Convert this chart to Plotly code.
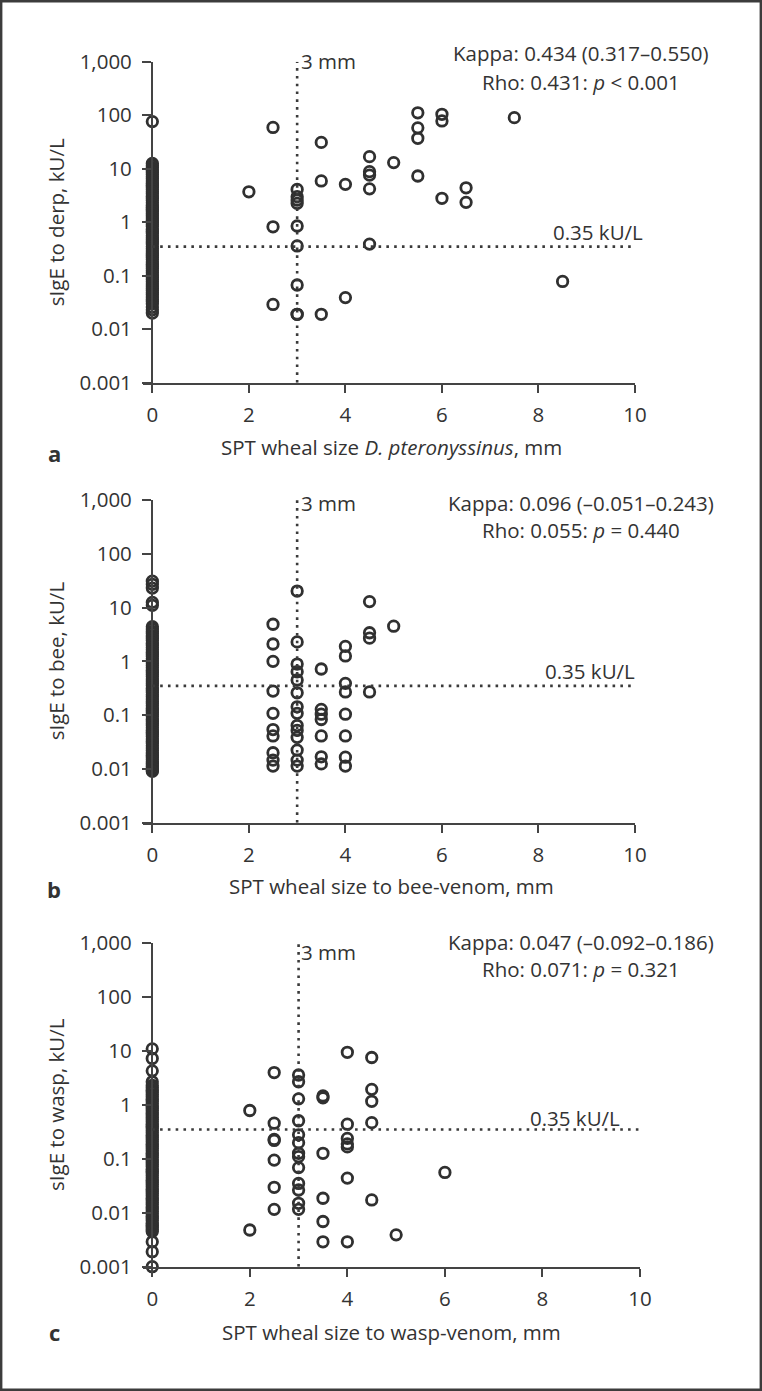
import plotly.graph_objects as go

# ---------------- data ----------------
# Panel a: D. pteronyssinus (x = 0 column, then the rest)
a_x0_vals = [76, 12.5, 11.4, 10.4, 9.5, 8.6, 7.8, 7.1, 6.5, 5.9, 5.4, 4.9, 4.5, 4.1, 3.7, 3.4,
             3.1, 2.8, 2.55, 2.3, 2.1, 1.9, 1.75, 1.6, 1.45, 1.3, 1.2, 1.1, 1.0, 0.91, 0.83,
             0.75, 0.68, 0.62, 0.56, 0.51, 0.47, 0.43, 0.39, 0.35, 0.32, 0.29, 0.265, 0.24,
             0.22, 0.2, 0.18, 0.165, 0.15, 0.136, 0.124, 0.113, 0.103, 0.094, 0.085, 0.077,
             0.07, 0.064, 0.058, 0.053, 0.048, 0.044, 0.04, 0.036, 0.033, 0.03, 0.026,
             0.023, 0.02]
a_x = [2, 2.5, 2.5, 2.5, 3, 3, 3, 3, 3, 3, 3, 3, 3, 3.5, 3.5, 3.5, 4, 4,
       4.5, 4.5, 4.5, 4.5, 4.5, 5, 5.5, 5.5, 5.5, 5.5, 6, 6, 6, 6.5, 6.5, 7.5, 8.5]
a_y = [3.7, 59, 0.82, 0.029, 4.1, 3.0, 2.6, 2.25, 0.85, 0.36, 0.067, 0.019, 0.019, 31, 5.9, 0.019, 5.1, 0.039,
       16.8, 8.8, 7.6, 4.2, 0.39, 13, 111, 58, 37, 7.3, 104, 78, 2.8, 4.4, 2.35, 90, 0.078]

# Panel b: bee venom
b_x0_vals = [31, 27, 23, 12.5, 11, 4.4, 4.0, 3.6, 3.3, 3.0, 2.7, 2.45, 2.2, 2.0, 1.8, 1.65,
             1.5, 1.36, 1.24, 1.12, 1.02, 0.93, 0.84, 0.76, 0.69, 0.63, 0.57, 0.52, 0.47,
             0.43, 0.39, 0.355, 0.32, 0.29, 0.265, 0.24, 0.22, 0.2, 0.18, 0.165, 0.15, 0.136,
             0.124, 0.113, 0.103, 0.094, 0.085, 0.077, 0.07, 0.064, 0.058, 0.053, 0.048,
             0.044, 0.04, 0.036, 0.033, 0.03, 0.027, 0.0245, 0.022, 0.02, 0.018, 0.0165,
             0.015, 0.0136, 0.0124, 0.0113, 0.0103, 0.0094, 0.009]
b_x = [2.5] * 10 + [3] * 14 + [3.5] * 7 + [4] * 8 + [4.5] * 4 + [5]
b_y = [4.9, 2.1, 1.0, 0.28, 0.108, 0.054, 0.041, 0.020, 0.0146, 0.0113,
       20.3, 2.3, 0.89, 0.64, 0.45, 0.26, 0.143, 0.108, 0.064, 0.052, 0.0386, 0.0224, 0.0146, 0.0113,
       0.72, 0.128, 0.104, 0.083, 0.041, 0.0168, 0.0124,
       1.9, 1.26, 0.39, 0.27, 0.104, 0.041, 0.0165, 0.0113,
       12.9, 3.4, 2.7, 0.27,
       4.5]

# Panel c: wasp venom
c_x0_vals = [11, 7.3, 4.3, 2.7, 2.3, 2.1, 1.9, 1.72, 1.56, 1.42, 1.29, 1.17, 1.06, 0.96, 0.87,
             0.79, 0.72, 0.65, 0.59, 0.54, 0.49, 0.445, 0.405, 0.37, 0.335, 0.305, 0.277,
             0.252, 0.229, 0.208, 0.189, 0.172, 0.156, 0.142, 0.129, 0.117, 0.106, 0.096,
             0.087, 0.079, 0.072, 0.065, 0.059, 0.054, 0.049, 0.0445, 0.0405, 0.037, 0.0335,
             0.0305, 0.0277, 0.0252, 0.0229, 0.0208, 0.0189, 0.0172, 0.0156, 0.0142, 0.0129,
             0.0117, 0.0106, 0.0096, 0.0087, 0.0079, 0.0072, 0.0065, 0.0059, 0.0054, 0.0049,
             0.0045, 0.0029, 0.0019, 0.001]
c_x = [2, 2] + [2.5] * 7 + [3] * 13 + [3.5] * 6 + [4] * 7 + [4.5] * 5 + [5, 6]
c_y = [0.79, 0.0048,
       4.0, 0.46, 0.23, 0.22, 0.095, 0.0297, 0.0116,
       3.6, 2.7, 1.3, 0.51, 0.28, 0.2, 0.127, 0.11, 0.069, 0.035, 0.0265, 0.015, 0.0116,
       1.47, 1.36, 0.127, 0.0186, 0.0069, 0.0029,
       9.5, 0.44, 0.24, 0.19, 0.167, 0.044, 0.0029,
       7.6, 1.95, 1.17, 0.47, 0.0173,
       0.0039, 0.056]

y_tickvals = [0.001, 0.01, 0.1, 1, 10, 100, 1000]
y_ticktext = ["0.001", "0.01", "0.1", "1", "10", "100", "1,000"]
x_tickvals = [0, 2, 4, 6, 8, 10]
cutoff_mm = 3
cutoff_ige = 0.35

panels = [
    dict(xs=[0] * len(a_x0_vals) + a_x, ys=a_x0_vals + a_y,
         ytitle="sIgE to derp, kU/L",
         xtitle="SPT wheal size <i>D. pteronyssinus</i>, mm",
         kappa="Kappa: 0.434 (0.317–0.550)", rho="Rho: 0.431: <i>p</i> < 0.001",
         letter="a"),
    dict(xs=[0] * len(b_x0_vals) + b_x, ys=b_x0_vals + b_y,
         ytitle="sIgE to bee, kU/L",
         xtitle="SPT wheal size to bee-venom, mm",
         kappa="Kappa: 0.096 (–0.051–0.243)", rho="Rho: 0.055: <i>p</i> = 0.440",
         letter="b"),
    dict(xs=[0] * len(c_x0_vals) + c_x, ys=c_x0_vals + c_y,
         ytitle="sIgE to wasp, kU/L",
         xtitle="SPT wheal size to wasp-venom, mm",
         kappa="Kappa: 0.047 (–0.092–0.186)", rho="Rho: 0.071: <i>p</i> = 0.321",
         letter="c"),
]

# ---------------- layout geometry (pixels) ----------------
W, H = 762, 1391
geo = [
    dict(xl=142.7, xr=635.0, yt=61.7, yb=382.7, kappa_y=53, rho_y=82, mm_y=60.7,
         lab_r=645, lab_y=231.7, xt_y=447, letter_y=453),
    dict(xl=142.7, xr=635.0, yt=500.0, yb=822.7, kappa_y=503, rho_y=530, mm_y=503.3,
         lab_r=637, lab_y=670.7, xt_y=886, letter_y=889),
    dict(xl=142.5, xr=640.0, yt=943.3, yb=1266.7, kappa_y=942, rho_y=969, mm_y=951.7,
         lab_r=622, lab_y=1118.3, xt_y=1332, letter_y=1332),
]

INK = "#333333"
AX = "#444444"
MK = "#303030"
FONT = "Open Sans"
TXT = 20.5

def px(x):
    return x / W

def py(y):
    return 1 - y / H

fig = go.Figure()
annotations = []
shapes = []
layout = dict(width=W, height=H,
              margin=dict(l=0, r=0, t=0, b=0, pad=0, autoexpand=False),
              paper_bgcolor="white", plot_bgcolor="white", showlegend=False,
              font=dict(family=FONT, color=INK, size=20))

for i, (p, g) in enumerate(zip(panels, geo)):
    n = "" if i == 0 else str(i + 1)
    xa, ya = "x" + n, "y" + n
    xr = [-0.2, 10]
    x0_pix = g["xl"] + (0 - xr[0]) / (xr[1] - xr[0]) * (g["xr"] - g["xl"])
    fig.add_trace(go.Scatter(
        x=p["xs"], y=p["ys"], mode="markers", xaxis=xa, yaxis=ya, cliponaxis=False,
        marker=dict(symbol="circle-open", size=10.5, color=MK,
                    line=dict(width=2.8, color=MK)),
        hoverinfo="skip"))
    layout["xaxis" + n] = dict(
        domain=[px(g["xl"]), px(g["xr"])], range=xr, anchor=ya, automargin=False,
        showline=True, linecolor=AX, linewidth=1.8, showgrid=False, zeroline=False,
        ticks="outside", ticklen=8, tickwidth=1.8, tickcolor=AX,
        tickvals=x_tickvals, ticklabelstandoff=5,
        tickfont=dict(family=FONT, size=20.5, color=INK))
    layout["yaxis" + n] = dict(
        domain=[py(g["yb"]), py(g["yt"])], type="log", range=[-3, 3],
        anchor="free", position=px(x0_pix), automargin=False,
        showline=True, linecolor=AX, linewidth=1.8, showgrid=False, zeroline=False,
        ticks="outside", ticklen=9.5, tickwidth=1.8, tickcolor=AX,
        tickvals=y_tickvals, ticktext=y_ticktext, ticklabelstandoff=6,
        tickfont=dict(family=FONT, size=20.5, color=INK))
    # dotted reference lines
    dot = dict(color="#3a3a3a", width=2.6, dash="2.6px,5.2px")
    shapes.append(dict(type="line", xref=xa, yref=ya, x0=cutoff_mm, x1=cutoff_mm,
                       y0=y_tickvals[0], y1=y_tickvals[-1], line=dot))
    shapes.append(dict(type="line", xref=xa, yref=ya, x0=0, x1=x_tickvals[-1],
                       y0=cutoff_ige, y1=cutoff_ige, line=dot))
    # texts
    annotations += [
        dict(text=p["kappa"], x=px(581), y=py(g["kappa_y"]), xref="paper", yref="paper",
             showarrow=False, xanchor="center", yanchor="middle", font=dict(size=TXT)),
        dict(text=p["rho"], x=px(581), y=py(g["rho_y"]), xref="paper", yref="paper",
             showarrow=False, xanchor="center", yanchor="middle", font=dict(size=TXT)),
        dict(text="3 mm", x=px(299), y=py(g["mm_y"]), xref="paper", yref="paper",
             showarrow=False, xanchor="left", yanchor="middle", font=dict(size=TXT)),
        dict(text="0.35 kU/L", x=px(g["lab_r"]), y=py(g["lab_y"]), xref="paper", yref="paper",
             showarrow=False, xanchor="right", yanchor="middle", font=dict(size=TXT)),
        dict(text=p["xtitle"], x=px(391), y=py(g["xt_y"]), xref="paper", yref="paper",
             showarrow=False, xanchor="center", yanchor="middle", font=dict(size=TXT)),
        dict(text=p["ytitle"], x=px(56), y=py((g["yt"] + g["yb"]) / 2), xref="paper",
             yref="paper", showarrow=False, textangle=-90, xanchor="center",
             yanchor="middle", font=dict(size=TXT)),
        dict(text="<b>" + p["letter"] + "</b>", x=px(54), y=py(g["letter_y"]), xref="paper",
             yref="paper", showarrow=False, xanchor="center", yanchor="middle",
             font=dict(size=22)),
    ]

# outer frame
shapes.append(dict(type="rect", xref="paper", yref="paper", x0=px(1.2), x1=px(760.8),
                   y0=py(1389.8), y1=py(1.2), line=dict(color="#3c3c3c", width=2.4)))

layout["annotations"] = annotations
layout["shapes"] = shapes
fig.update_layout(**layout)

fig.write_html("out.html", config={"displayModeBar": False},
               post_script="document.body.style.margin='0';")
